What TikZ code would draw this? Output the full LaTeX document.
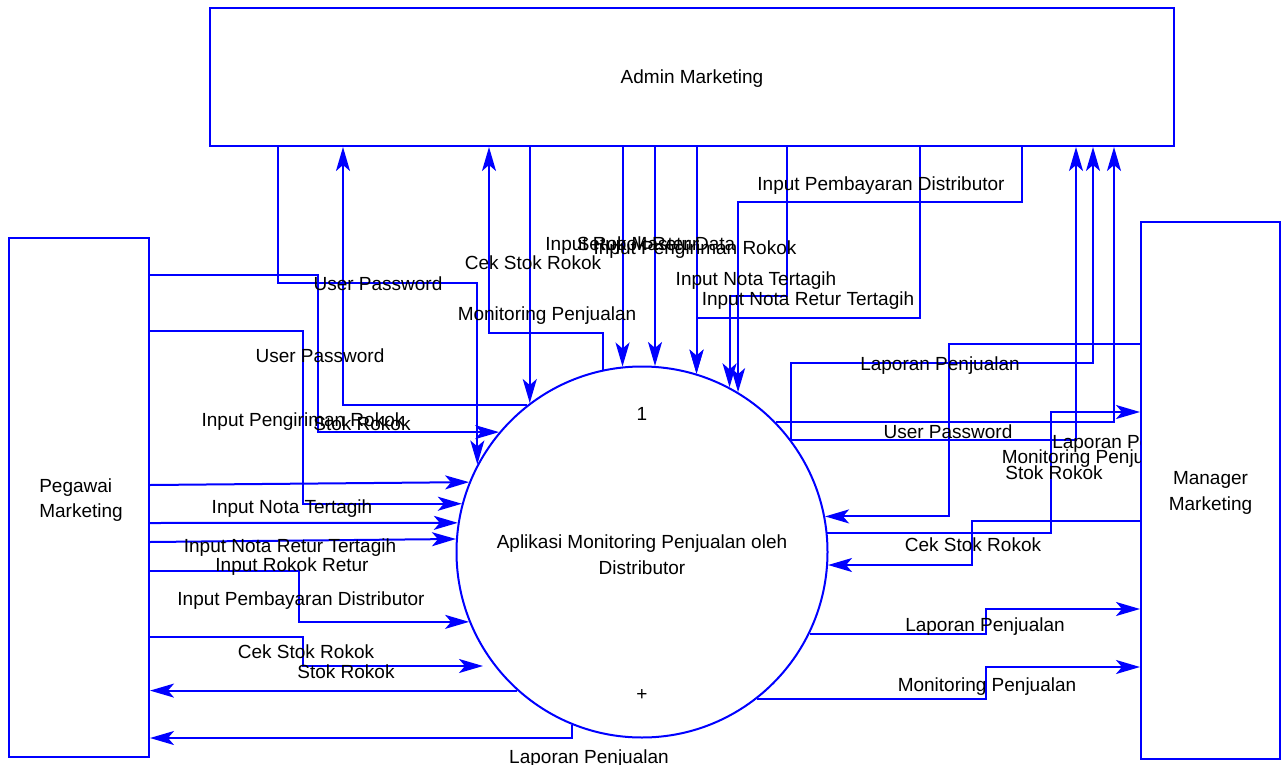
\documentclass[tikz,border=0pt]{standalone}
\usepackage{fontspec}
\setmainfont{Liberation Sans}
\usetikzlibrary{arrows.meta}
\newcommand\lbfont{\fontsize{19pt}{25.5pt}\selectfont}
\tikzset{
  flow/.style={draw=blue, line width=2pt, line join=miter,
    -{Stealth[length=24pt,width=14pt,inset=6pt]}},
  entity/.style={draw=blue, line width=2pt, rectangle, fill=white,
    inner sep=0pt},
  procnode/.style={draw=blue, line width=2pt, circle, fill=white,
    inner sep=0pt, minimum size=371pt},
  mlbl/.style={font=\lbfont, text=black, inner sep=0pt, yshift=-2.5pt},
  lbl/.style={font=\lbfont, text=black, inner sep=0pt, yshift=-2pt,
    text height=14pt, text depth=4pt}
}
\begin{document}
\begin{tikzpicture}[x=1pt,y=-1pt]
\useasboundingbox (0,0) rectangle (1284,765);
% nodes
\node[entity, minimum width=964pt, minimum height=138pt,
  label={[lbl]center:Admin Marketing}] (admin) at (692,77) {};
\node[entity, minimum width=140pt, minimum height=519pt,
  label={[mlbl, align=left, xshift=2pt]center:Pegawai\\Marketing}] (pegawai) at (79,497.5) {};
\node[entity, minimum width=139pt, minimum height=537pt,
  label={[mlbl, align=center]center:Manager\\Marketing}] (manager) at (1210.5,490.5) {};
\node[procnode,
  label={[mlbl, align=center]center:Aplikasi Monitoring Penjualan oleh\\Distributor}] (proc) at (642,552) {};
\node[lbl] (pnum) at (642,413) {1};
\node[lbl] (pplus) at (642,693) {+};
\coordinate (stoktip) at (483,666);

% Admin <-> process
\draw[flow] (admin.south -| 278,0) -- (278,283) -| (proc.152.1);
\draw[flow] (proc.128.1) -| (admin.south -| 343,0);
\draw[flow] (proc.102.1) |- (489,333) -- (admin.south -| 489,0);
\draw[flow] (admin.south -| proc.127.1) -- (proc.127.1);
\draw[flow] (admin.south -| proc.96.5) -- (proc.96.5);
\draw[flow] (admin.south -| proc.86.3) -- (proc.86.3);
\draw[flow] (admin.south -| proc.73.7) -- (proc.73.7);
\draw[flow] (admin.south -| 920,0) |- (proc.73.7 |- 0,318) -- (proc.73.7);
\draw[flow] (admin.south -| 787,0) |- (proc.62.7 |- 0,296) -- (proc.62.7);
\draw[flow] (admin.south -| 1022,0) |- (proc.59.2 |- 0,202) -- (proc.59.2);
\draw[flow] (proc.44.06) -| (admin.south -| 1114,0);
\draw[flow] (proc.37.92) |- (1093,363) -- (admin.south -| 1093,0);
\draw[flow] (proc.37.92) -| (admin.south -| 1076,0);

% Manager <-> process
\draw[flow] (manager.west |- 0,344) -- (949,344) |- (proc.11.2);
\draw[flow] (proc.6.2) -| (1051,412) -- (manager.west |- 0,412);
\draw[flow] (manager.west |- 0,521) -- (972,521) |- (proc.-4.6);
\draw[flow] (proc.-26.9) -| (986,609) -- (manager.west |- 0,609);
\draw[flow] (proc.-52.4) -| (986,667) -- (manager.west |- 0,667);

% Pegawai <-> process
\draw[flow] (pegawai.east |- 0,275) -- (318,275) |- (proc.140.9);
\draw[flow] (pegawai.east |- 0,331) -- (303,331) |- (proc.165.3);
\draw[flow] (pegawai.east |- 0,485) -- (proc.158.8);
\draw[flow] (pegawai.east |- 0,523) -- (proc.171);
\draw[flow] (pegawai.east |- 0,542) -- (proc.176.9);
\draw[flow] (pegawai.east |- 0,571) -- (299,571) |- (proc.202.2);
\draw[flow] (pegawai.east |- 0,637) -- (303,637) |- (stoktip);
\draw[flow] (proc.228.1) -- (pegawai.east |- proc.228.1);
\draw[flow] (proc.248.5) |- (pegawai.east |- 0,738);

% labels
\node[lbl] (t1) at (378,283) {User Password};
\node[lbl] (t2) at (320,355) {User Password};
\node[lbl] (t3) at (303,419) {Input Pengiriman Rokok};
\node[lbl] (t4) at (362,423) {Stok Rokok};
\node[lbl] (t5) at (533,262) {Cek Stok Rokok};
\node[lbl] (t6) at (547,313) {Monitoring Penjualan};
\node[lbl] (t7) at (622,243) {Input Rokok Retur};
\node[lbl] (t8) at (656,243) {Setup Master Data};
\node[lbl] (t9) at (695,247) {Input Pengiriman Rokok};
\node[lbl] (t10) at (756,278) {Input Nota Tertagih};
\node[lbl] (t11) at (808,298) {Input Nota Retur Tertagih};
\node[lbl] (t12) at (881,183) {Input Pembayaran Distributor};
\node[lbl] (t13) at (940,363) {Laporan Penjualan};
\node[lbl] (t14) at (948,431) {User Password};
\begin{scope}
\clip (0,0) rectangle (manager.south west);
\node[lbl] (t15) at (1132,441) {Laporan Penjualan};
\node[lbl] (t16) at (1091,456) {Monitoring Penjualan};
\end{scope}
\node[lbl] (t17) at (1054,472) {Stok Rokok};
\node[lbl] (t18) at (973,544) {Cek Stok Rokok};
\node[lbl] (t19) at (985,624) {Laporan Penjualan};
\node[lbl] (t20) at (987,684) {Monitoring Penjualan};
\node[lbl] (t21) at (292,506) {Input Nota Tertagih};
\node[lbl] (t22) at (290,545) {Input Nota Retur Tertagih};
\node[lbl] (t23) at (292,564) {Input Rokok Retur};
\node[lbl] (t24) at (301,598) {Input Pembayaran Distributor};
\node[lbl] (t25) at (306,651) {Cek Stok Rokok};
\node[lbl] (t26) at (346,671) {Stok Rokok};
\node[lbl] (t27) at (589,756) {Laporan Penjualan};
\end{tikzpicture}
\end{document}
